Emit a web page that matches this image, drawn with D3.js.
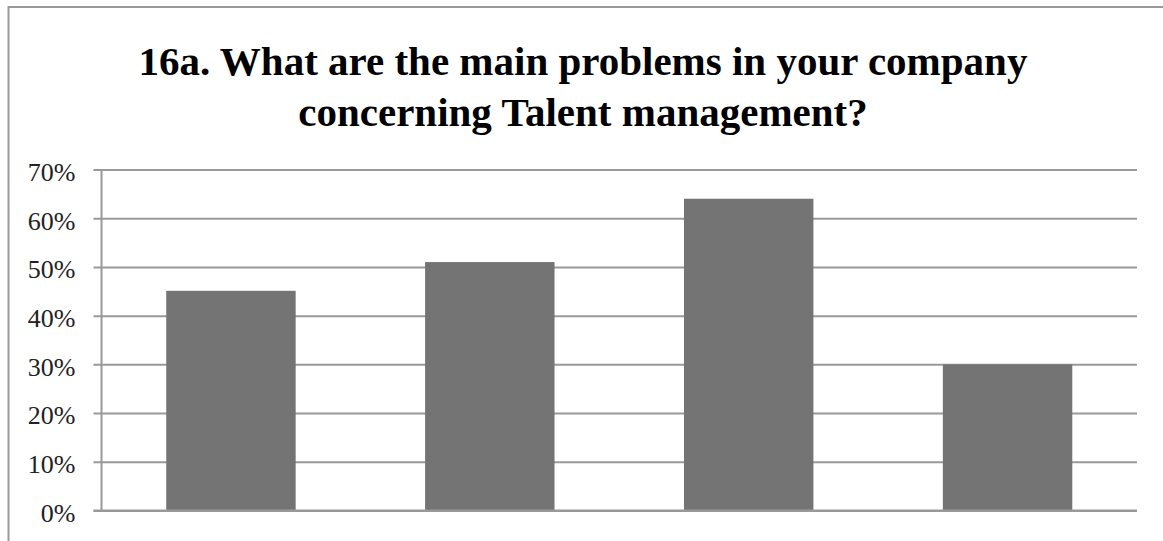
<!DOCTYPE html>
<html>
<head>
<meta charset="utf-8">
<script src="https://cdn.jsdelivr.net/npm/d3@7"></script>
<style>
  body { margin: 0; background: #fff; }
  svg { display: block; }
</style>
</head>
<body>
<div id="chart"></div>
<script>
// data
var categories = ["A", "B", "C", "D"];
var values = [0.451, 0.51, 0.64, 0.30];
var yTicks = [0, 0.1, 0.2, 0.3, 0.4, 0.5, 0.6, 0.7];
var titleLines = ["16a. What are the main problems in your company", "concerning Talent management?"];

var width = 1163, height = 541;
var plot = { left: 101.5, right: 1137, top: 169.5, bottom: 510.5 };

var svg = d3.select("#chart").append("svg")
  .attr("width", width)
  .attr("height", height);

// outer frame (top and left edges only are visible)
svg.append("path")
  .attr("d", "M8.5 541 L8.5 7 L1163 7")
  .attr("fill", "none")
  .attr("stroke", "#999")
  .attr("stroke-width", 2);

// title
svg.append("g").selectAll("text")
  .data(titleLines)
  .enter().append("text")
    .attr("x", 583)
    .attr("y", function (d, i) { return 75 + i * 51; })
    .attr("text-anchor", "middle")
    .attr("font-family", "'Liberation Serif', 'Times New Roman', serif")
    .attr("font-weight", "bold")
    .attr("font-size", 41)
    .attr("fill", "#000")
    .text(function (d) { return d; });

var x = d3.scaleBand()
  .domain(categories)
  .range([plot.left, plot.right])
  .paddingInner(0.5)
  .paddingOuter(0.25);

var y = d3.scaleLinear()
  .domain([0, 0.7])
  .range([plot.bottom, plot.top]);

// gridlines + ticks
var yAxis = d3.axisLeft(y)
  .tickValues(yTicks)
  .tickSize(-(plot.right - plot.left))
  .tickFormat(d3.format(".0%"))
  .tickPadding(26);

var gy = svg.append("g")
  .attr("transform", "translate(" + plot.left + ",0)")
  .call(yAxis);
gy.select(".domain").remove();
gy.selectAll(".tick line")
  .attr("x1", -8)
  .attr("stroke", "#999")
  .attr("stroke-width", 2);
gy.selectAll(".tick text")
  .attr("font-family", "'Liberation Serif', 'Times New Roman', serif")
  .attr("font-size", 26)
  .attr("fill", "#222")
  .attr("dy", "0.42em");

// y axis line
svg.append("line")
  .attr("x1", plot.left).attr("x2", plot.left)
  .attr("y1", plot.top).attr("y2", plot.bottom)
  .attr("stroke", "#999")
  .attr("stroke-width", 2);

// bars
svg.append("g").selectAll("rect")
  .data(values)
  .enter().append("rect")
    .attr("x", function (d, i) { return x(categories[i]); })
    .attr("width", x.bandwidth())
    .attr("y", function (d) { return y(d); })
    .attr("height", function (d) { return y(0) - y(d); })
    .attr("fill", "#747474");

// baseline over bars
svg.append("line")
  .attr("x1", plot.left - 8).attr("x2", plot.right)
  .attr("y1", y(0)).attr("y2", y(0))
  .attr("stroke", "#999")
  .attr("stroke-width", 2);
</script>
</body>
</html>
